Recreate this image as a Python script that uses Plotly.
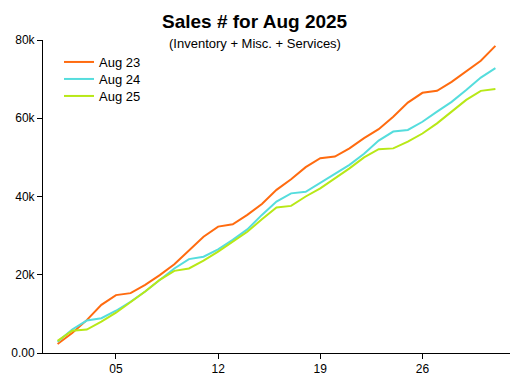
import plotly.graph_objects as go

days = list(range(1, 32))
aug23 = [2.3, 5.1, 8.4, 12.3, 14.8, 15.3, 17.4, 19.9, 22.7, 26.1, 29.7, 32.3, 32.9, 35.3, 38.1,
         41.7, 44.4, 47.5, 49.8, 50.2, 52.3, 54.9, 57.2, 60.4, 64.0, 66.5, 67.0, 69.3, 71.9, 74.7, 78.5]
aug24 = [2.9, 6.0, 8.3, 8.9, 10.8, 13.1, 15.7, 18.7, 21.6, 24.0, 24.6, 26.5, 28.9, 31.6, 35.3,
         38.7, 40.8, 41.2, 43.4, 45.8, 48.1, 50.9, 54.3, 56.6, 57.0, 59.1, 61.7, 64.2, 67.2, 70.4, 72.8]
aug25 = [3.1, 5.7, 6.0, 8.0, 10.3, 12.9, 15.7, 18.7, 21.0, 21.6, 23.6, 25.9, 28.5, 31.0, 34.2,
         37.2, 37.6, 40.0, 42.1, 44.6, 47.2, 50.0, 52.1, 52.3, 54.0, 56.1, 58.7, 61.7, 64.7, 67.0, 67.5]
series_names = ["Aug 23", "Aug 24", "Aug 25"]
series_values = [aug23, aug24, aug25]
series_colors = ["#FF6B0F", "#55DDDD", "#B8E817"]

x_tickvals = [5, 12, 19, 26]
x_ticktext = ["05", "12", "19", "26"]
y_tickvals = [0, 20000, 40000, 60000, 80000]
y_ticktext = ["0.00", "20k", "40k", "60k", "80k"]

FONT = "Liberation Sans, Arial, sans-serif"
W, H = 510, 382
ML, MR, MT, MB = 43, 0, 40, 29
plot_h = H - MT - MB
plot_w = W - ML - MR

def py(pixel_y):
    return (H - MB - pixel_y) / plot_h

def px(pixel_x):
    return (pixel_x - ML) / plot_w

fig = go.Figure()
legend_ids = ["legend", "legend2", "legend3"]
legend_rows = [62, 79, 96]
for name, vals, color, lid in zip(series_names, series_values, series_colors, legend_ids):
    fig.add_trace(go.Scatter(x=days, y=[v * 1000 for v in vals], mode="lines", name=name,
                             line=dict(color=color, width=2), legend=lid))

legend_layout = {}
for lid, row in zip(legend_ids, legend_rows):
    legend_layout[lid] = dict(x=px(59), y=py(row), xanchor="left", yanchor="middle",
                              bgcolor="rgba(0,0,0,0)", borderwidth=0,
                              font=dict(size=13, family=FONT, color="black"), itemwidth=30)

fig.update_layout(
    width=W, height=H,
    margin=dict(l=ML, r=MR, t=MT, b=MB),
    paper_bgcolor="white", plot_bgcolor="white",
    font=dict(family=FONT, size=12, color="black"),
    showlegend=True,
    xaxis=dict(range=[0, 32], tickvals=x_tickvals, ticktext=x_ticktext, showgrid=False,
               zeroline=False, showline=True, linecolor="black", linewidth=1,
               ticks="outside", ticklen=5, tickcolor="black", tickfont=dict(size=12, family=FONT)),
    yaxis=dict(range=[0, 80000], tickvals=y_tickvals, ticktext=y_ticktext, showgrid=False,
               zeroline=False, showline=True, linecolor="black", linewidth=1,
               ticks="outside", ticklen=5, tickcolor="black", tickfont=dict(size=12, family=FONT)),
    annotations=[
        dict(text="<b>Sales # for Aug 2025</b>", xref="paper", yref="paper", x=px(255), y=py(22),
             xanchor="center", yanchor="middle", showarrow=False,
             font=dict(size=19, family=FONT, color="black")),
        dict(text="(Inventory + Misc. + Services)", xref="paper", yref="paper", x=px(255), y=py(43),
             xanchor="center", yanchor="middle", showarrow=False,
             font=dict(size=13, family=FONT, color="black")),
    ],
    **legend_layout,
)

fig.write_html("out.html", config={"displayModeBar": False},
               post_script="document.body.style.margin='0';document.body.style.overflow='hidden';")
